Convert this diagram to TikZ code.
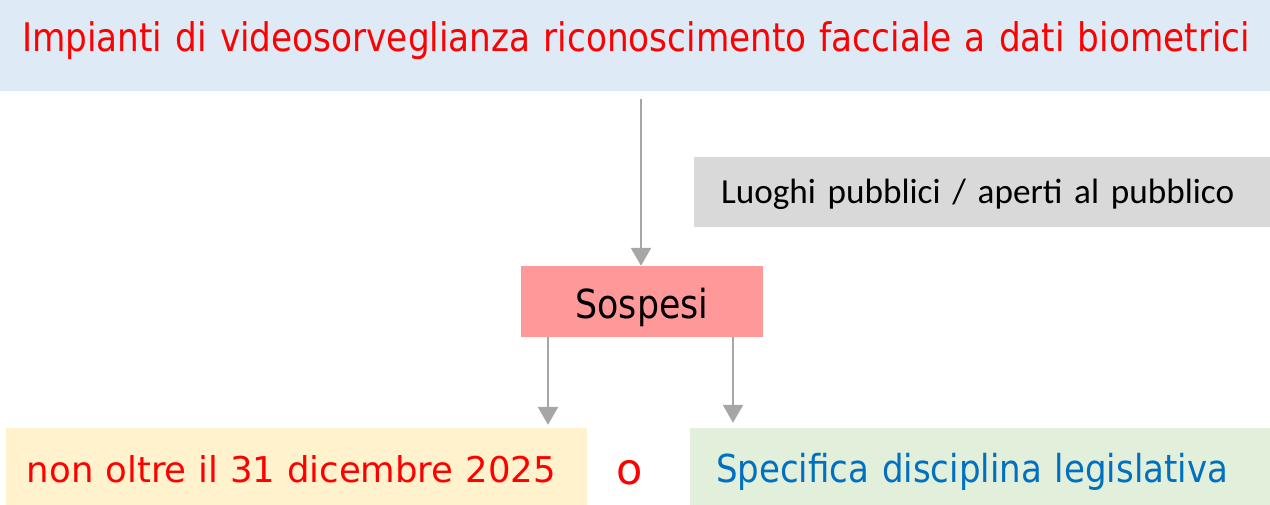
\documentclass[tikz,border=0pt]{standalone}
\usepackage{fontspec}
\usetikzlibrary{arrows.meta}
\newfontfamily\tahoma[FakeStretch=0.87]{DejaVu Sans}
\newfontfamily\tahomawide[FakeStretch=0.884]{DejaVu Sans}
\newfontfamily\verdana{DejaVu Sans}
\newfontfamily\calibri{Carlito}
\definecolor{titlebg}{RGB}{222,234,246}
\definecolor{placebg}{RGB}{217,217,217}
\definecolor{stopbg}{RGB}{255,153,153}
\definecolor{datebg}{RGB}{255,242,204}
\definecolor{lawbg}{RGB}{226,239,218}
\definecolor{lawtext}{RGB}{0,112,192}
\definecolor{arrgray}{RGB}{166,166,166}
\begin{document}
\begin{tikzpicture}[x=1pt, y=-1pt, >={Triangle[width=20pt,length=18pt]},
    box/.style={rectangle, inner ysep=0pt, text depth=0pt, align=left},
    arr/.style={->, draw=arrgray, fill=arrgray, line width=2.5pt}]

    \useasboundingbox (0,0) rectangle (1270,505);

    % boxes
    \node[box, fill=titlebg, inner xsep=22pt, text width=1226pt, minimum height=91pt,
        text height=13pt, text=red, font=\tahoma\fontsize{39.4}{39.4}\selectfont] (title) at (635,45.5)
        {\mbox{Impianti di videosorveglianza riconoscimento facciale a dati biometrici}};
    \node[box, fill=placebg, inner xsep=27pt, text width=522pt, minimum height=70pt,
        text height=24pt, font=\calibri\fontsize{35.2}{35.2}\selectfont] (luoghi) at (982,192)
        {\mbox{Luoghi pubblici / aperti al pubblico}};
    \node[box, fill=stopbg, inner xsep=0pt, minimum width=242pt, minimum height=71pt,
        text height=35pt, font=\tahoma\fontsize{40}{40}\selectfont] (sospesi) at (642,301.5) {Sospesi};
    \node[box, fill=datebg, inner xsep=21pt, text width=539pt, minimum height=77pt,
        text height=31pt, text=red, font=\verdana\fontsize{35.5}{35.5}\selectfont] (data) at (296.5,466.5)
        {\mbox{non oltre il 31 dicembre 2025}};
    \node[box, inner xsep=0pt, text height=28pt, text=red,
        font=\verdana\fontsize{43}{43}\selectfont] (o) at (629.5,470) {o};
    \node[box, fill=lawbg, inner xsep=26pt, text width=528pt, minimum height=77pt,
        text height=31pt, text=lawtext, font=\tahomawide\fontsize{38.5}{38.5}\selectfont] (legge) at (980,466.5)
        {\mbox{Specifica disciplina legislativa}};

    % frecce
    \draw[arr, shorten <=8pt] (title.south -| 641,0) -- (sospesi.north -| 641,0);
    \draw[arr, shorten >=3pt] (sospesi.south -| 548,0) -- (data.north -| 548,0);
    \draw[arr, shorten >=5pt] (sospesi.south -| 733,0) -- (legge.north -| 733,0);

\end{tikzpicture}
\end{document}
